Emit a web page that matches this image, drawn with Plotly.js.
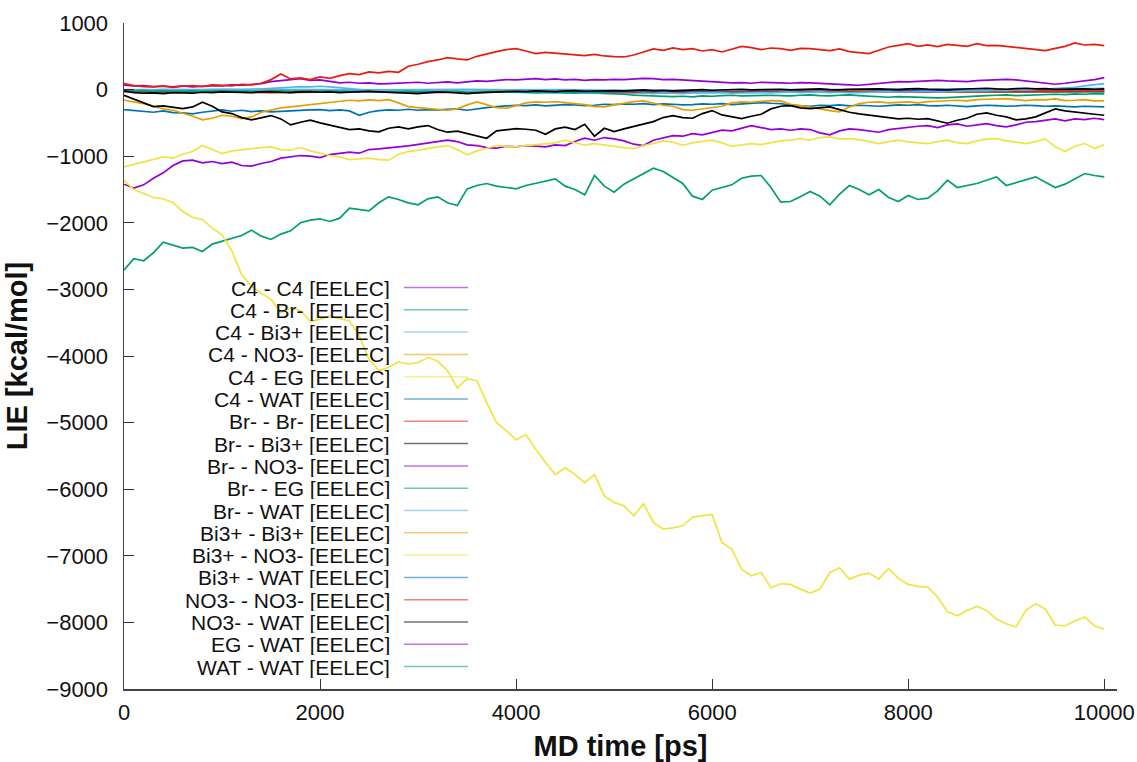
<!DOCTYPE html>
<html><head><meta charset="utf-8">
<script src="https://cdn.plot.ly/plotly-3.0.1.min.js"></script>
<style>html,body{margin:0;padding:0;background:#fff}#chart{width:1137px;height:762px}</style>
</head><body><div id="chart"></div>
<script>
// MD time [ps]
const time = [
0,100,200,300,400,500,600,700,800,900,
1000,1100,1200,1300,1400,1500,1600,1700,1800,1900,
2000,2100,2200,2300,2400,2500,2600,2700,2800,2900,
3000,3100,3200,3300,3400,3500,3600,3700,3800,3900,
4000,4100,4200,4300,4400,4500,4600,4700,4800,4900,
5000,5100,5200,5300,5400,5500,5600,5700,5800,5900,
6000,6100,6200,6300,6400,6500,6600,6700,6800,6900,
7000,7100,7200,7300,7400,7500,7600,7700,7800,7900,
8000,8100,8200,8300,8400,8500,8600,8700,8800,8900,
9000,9100,9200,9300,9400,9500,9600,9700,9800,9900,
10000];
const timeCoarse = [0,500,1000,1500,2000,2500,3000,3500,4000,4500,5000,5500,6000,6500,7000,7500,8000,8500,9000,9500,10000];

// series mostly hidden in the band around 0 (coarse sampling)
const c4_c4   = [-20,-30,-25,-35,-30,-25,-30,-35,-30,-25,-20,-25,-30,-20,-15,-20,-10,-15,-5,-10,-5];
const c4_br   = [-10,-20,-15,-25,-20,-15,-20,-25,-20,-30,-25,-20,-25,-30,-35,-25,-30,-35,-40,-30,-35];
const c4_bi   = [0,-5,5,0,-10,-5,0,5,-5,0,-10,-15,-10,-5,0,5,0,10,5,15,20];
const c4_no3  = [-30,-35,-40,-30,-35,-45,-40,-35,-30,-40,-35,-30,-40,-35,-30,-25,-35,-30,-25,-30,-25];
const c4_wat  = [-25,-30,-35,-30,-40,-35,-30,-35,-40,-30,-35,-40,-35,-30,-35,-30,-25,-30,-35,-30,-25];
const no3_no3 = [-30,-40,-35,-45,-40,-35,-45,-40,-35,-45,-50,-45,-40,-35,-40,-30,-35,-30,-25,-30,-25];

const br_bi = [
-20,-45,-55,-50,-60,-45,-50,-55,-40,-45,
-35,-40,-50,-45,-35,-30,-40,-45,-35,-30,
-40,-35,-45,-40,-30,-25,-35,-45,-50,-55,
-60,-45,-35,-40,-55,-60,-50,-40,-35,-30,
-25,-30,-20,-25,-30,-20,-15,-25,-20,-10,
-15,-20,-10,-5,-15,-10,-20,-10,-5,0,
-10,-5,0,5,-5,0,10,5,-5,0,
5,10,0,-5,5,10,15,10,5,0,
10,15,5,0,-5,5,10,15,20,10,
5,15,20,10,15,5,10,15,10,5,
10];
const br_eg = [
-10,-20,-15,-25,-20,-30,-25,-20,-30,-25,
-20,-30,-25,-35,-30,-25,-20,-30,-25,-35,
-30,-25,-35,-30,-25,-30,-40,-35,-30,-25,
-35,-30,-40,-35,-30,-40,-45,-35,-30,-40,
-35,-40,-45,-40,-35,-45,-50,-40,-45,-55,
-60,-70,-85,-90,-100,-95,-105,-100,-110,-95,
-100,-90,-85,-95,-90,-80,-85,-90,-95,-85,
-80,-90,-95,-85,-80,-90,-100,-110,-115,-105,
-110,-120,-115,-125,-120,-110,-100,-95,-90,-85,
-80,-90,-85,-75,-80,-70,-75,-65,-70,-60,
-65];
const br_wat = [
-5,-10,0,-5,5,0,-5,-10,-5,0,
5,0,-5,0,5,10,25,35,45,40,
50,40,30,20,10,-10,-5,-15,-10,-20,
-15,-25,-20,-30,-25,-35,-30,-40,-35,-40,
-45,-40,-50,-45,-55,-50,-45,-55,-50,-60,
-55,-60,-65,-55,-60,-50,-55,-60,-50,-45,
-50,-45,-55,-50,-40,-45,-50,-40,-35,-45,
-40,-35,-45,-40,-50,-45,-40,-35,-30,-40,
-35,-30,-25,-35,-30,-20,-25,-15,-20,-10,
-15,-5,-10,0,5,10,20,35,55,75,
90];
const bi_wat = [
-300,-310,-325,-340,-320,-345,-350,-365,-340,-320,
-305,-325,-310,-330,-320,-335,-325,-320,-310,-305,
-300,-315,-305,-320,-385,-340,-315,-305,-310,-295,
-310,-300,-305,-300,-290,-310,-285,-270,-255,-245,
-235,-240,-230,-245,-235,-225,-230,-240,-235,-220,
-225,-215,-220,-210,-225,-215,-220,-230,-225,-215,
-220,-210,-225,-215,-200,-195,-205,-210,-235,-240,
-250,-235,-240,-230,-245,-235,-240,-250,-240,-230,
-235,-225,-240,-245,-235,-240,-255,-245,-235,-240,
-250,-245,-235,-240,-250,-245,-255,-260,-250,-255,
-260];
const bi_bi = [
-160,-180,-210,-250,-290,-310,-350,-400,-455,-430,
-385,-400,-435,-410,-340,-310,-275,-260,-245,-225,
-210,-195,-175,-160,-170,-155,-165,-150,-200,-255,
-270,-280,-290,-310,-290,-230,-185,-230,-270,-280,
-240,-200,-185,-190,-180,-195,-210,-225,-255,-260,
-230,-200,-180,-170,-200,-235,-250,-300,-310,-290,
-265,-250,-200,-185,-190,-175,-165,-170,-220,-240,
-260,-290,-315,-335,-260,-210,-190,-185,-200,-190,
-185,-200,-180,-175,-165,-160,-170,-150,-145,-140,
-135,-150,-165,-150,-155,-140,-165,-160,-150,-170,
-170];
const no3_wat = [
-85,-140,-200,-255,-245,-270,-285,-260,-190,-250,
-335,-360,-420,-455,-420,-390,-440,-530,-490,-460,
-500,-530,-560,-600,-590,-620,-635,-580,-560,-590,
-560,-540,-600,-640,-625,-660,-700,-730,-620,-600,
-585,-595,-610,-670,-590,-565,-600,-520,-700,-580,
-630,-590,-555,-520,-480,-420,-390,-420,-430,-360,
-315,-380,-410,-435,-400,-370,-290,-250,-240,-275,
-285,-270,-260,-300,-340,-365,-385,-410,-425,-440,
-430,-445,-435,-470,-505,-460,-430,-370,-350,-385,
-410,-455,-440,-410,-350,-290,-320,-340,-355,-370,
-385];
const br_no3 = [
65,55,60,45,50,40,55,40,50,60,
55,70,65,80,90,120,140,150,165,140,
145,120,100,110,95,100,85,90,95,100,
110,95,105,115,100,120,130,125,140,150,
145,160,165,150,160,145,155,140,150,145,
155,150,160,170,165,150,155,145,140,135,
125,110,100,105,95,110,100,100,95,105,
100,90,85,75,70,65,80,95,110,120,
115,125,135,140,130,125,120,135,145,150,
155,145,130,110,90,80,95,110,130,150,
180];
const br_br = [
90,60,45,40,55,35,50,60,45,70,
65,55,80,70,95,150,235,160,175,150,
190,170,210,240,225,265,250,275,260,350,
380,420,445,480,460,445,500,540,570,600,
615,580,540,560,545,530,520,510,530,505,
495,490,520,560,610,590,625,600,615,580,
600,565,610,650,630,600,625,615,590,620,
615,600,585,610,570,555,540,590,640,665,
690,650,670,645,680,665,650,690,660,665,
650,640,620,600,585,620,650,700,670,680,
660];
const eg_wat = [
-1420,-1480,-1430,-1330,-1250,-1140,-1070,-1060,-1100,-1080,
-1110,-1090,-1140,-1150,-1110,-1080,-1030,-1010,-990,-1000,
-1020,-975,-960,-940,-955,-900,-890,-870,-860,-845,
-825,-800,-790,-760,-780,-830,-840,-870,-880,-850,
-860,-840,-850,-860,-830,-840,-780,-730,-760,-720,
-740,-770,-820,-840,-760,-720,-690,-700,-660,-680,
-640,-610,-620,-580,-540,-570,-600,-590,-610,-590,
-600,-650,-680,-620,-590,-600,-620,-640,-600,-580,
-560,-550,-540,-570,-530,-515,-550,-530,-510,-540,
-560,-530,-490,-480,-460,-440,-470,-440,-450,-430,
-450];
const c4_eg = [
-1160,-1120,-1080,-1040,-1010,-1030,-970,-930,-840,-900,
-960,-920,-900,-880,-870,-860,-900,-910,-870,-920,
-960,-990,-1010,-1050,-1040,-1030,-1050,-1060,-970,-930,
-910,-880,-860,-840,-900,-980,-920,-880,-840,-850,
-860,-840,-830,-810,-800,-760,-800,-835,-810,-830,
-860,-870,-885,-840,-810,-770,-790,-835,-800,-785,
-760,-800,-850,-830,-810,-825,-800,-770,-760,-735,
-760,-720,-710,-740,-735,-750,-780,-810,-780,-760,
-785,-800,-810,-780,-760,-795,-810,-770,-745,-735,
-770,-790,-810,-780,-740,-860,-930,-850,-810,-880,
-830];
const wat_wat = [
-2710,-2540,-2570,-2450,-2290,-2330,-2380,-2370,-2430,-2320,
-2280,-2230,-2190,-2110,-2200,-2250,-2170,-2120,-2000,-1960,
-1940,-1980,-1930,-1780,-1800,-1820,-1700,-1610,-1650,-1700,
-1730,-1640,-1610,-1700,-1740,-1490,-1440,-1410,-1450,-1470,
-1490,-1440,-1410,-1370,-1340,-1450,-1500,-1580,-1290,-1450,
-1540,-1420,-1340,-1260,-1180,-1230,-1320,-1410,-1600,-1650,
-1510,-1470,-1430,-1330,-1300,-1290,-1470,-1690,-1680,-1610,
-1530,-1600,-1730,-1570,-1440,-1500,-1580,-1500,-1620,-1680,
-1590,-1650,-1630,-1520,-1360,-1470,-1440,-1410,-1360,-1310,
-1440,-1400,-1350,-1310,-1390,-1470,-1420,-1340,-1260,-1290,
-1310];
const bi_no3 = [
-1360,-1500,-1560,-1620,-1640,-1700,-1830,-1920,-1950,-2080,
-2180,-2420,-2780,-2950,-3060,-3150,-3350,-3280,-3320,-3480,
-3450,-3400,-3440,-3470,-3700,-4050,-4220,-4170,-4090,-4120,
-4100,-4020,-4080,-4220,-4480,-4340,-4370,-4700,-5000,-5120,
-5260,-5180,-5400,-5600,-5780,-5680,-5780,-5900,-5780,-6100,
-6200,-6250,-6400,-6220,-6500,-6600,-6580,-6550,-6420,-6400,
-6380,-6800,-6900,-7200,-7300,-7250,-7480,-7420,-7430,-7500,
-7560,-7500,-7250,-7180,-7350,-7290,-7260,-7350,-7190,-7340,
-7430,-7460,-7470,-7620,-7840,-7900,-7820,-7760,-7820,-7950,
-8020,-8070,-7820,-7720,-7800,-8040,-8050,-7980,-7920,-8050,
-8100];

const legendNames = [
"C4 - C4 [EELEC]","C4 - Br- [EELEC]","C4 - Bi3+ [EELEC]","C4 - NO3- [EELEC]","C4 - EG [EELEC]","C4 - WAT [EELEC]",
"Br- - Br- [EELEC]","Br- - Bi3+ [EELEC]","Br- - NO3- [EELEC]","Br- - EG [EELEC]","Br- - WAT [EELEC]",
"Bi3+ - Bi3+ [EELEC]","Bi3+ - NO3- [EELEC]","Bi3+ - WAT [EELEC]","NO3- - NO3- [EELEC]","NO3- - WAT [EELEC]",
"EG - WAT [EELEC]","WAT - WAT [EELEC]"];
const P="#9400d3",G="#009e73",LB="#56b4e9",O="#e69f00",Y="#f0e442",B="#0072b2",R="#e51e10",K="#000000";
const seriesColors = [P,G,LB,O,Y,B,R,K,P,G,LB,O,Y,B,R,K,P,G];
const seriesY = [c4_c4,c4_br,c4_bi,c4_no3,c4_eg,c4_wat,br_br,br_bi,br_no3,br_eg,br_wat,bi_bi,bi_no3,bi_wat,no3_no3,no3_wat,eg_wat,wat_wat];
const seriesX = [timeCoarse,timeCoarse,timeCoarse,timeCoarse,time,timeCoarse,time,time,time,time,time,time,time,time,timeCoarse,time,time,time];
// drawing order (background first)
const drawOrder = [0,1,2,3,5,14,10,9,7,13,11,15,8,6,16,4,17,12];

const FONT = "Liberation Sans, Arial, sans-serif";
const traces = drawOrder.map(i => ({
  type:"scatter", mode:"lines", x:seriesX[i], y:seriesY[i], name:legendNames[i],
  line:{color:seriesColors[i], width:1.7}, showlegend:false, hoverinfo:"skip"
}));

const L=124, R_=1117, T=23, Bt=689;
const pw = R_-L, ph = Bt-T;
const annotations = [], shapes = [];
legendNames.forEach((nm,i) => {
  const ypx = 287.5 + 22.3*i;
  const yp = (Bt - ypx)/ph;
  annotations.push({xref:"paper", yref:"paper", x:(391-L)/pw, y:yp, xanchor:"right", yanchor:"middle",
    text:nm, showarrow:false, borderpad:0, height:22, valign:"middle",
    font:{family:FONT, size:21, color:"#111"}});
  shapes.push({type:"line", xref:"paper", yref:"paper", x0:(404-L)/pw, x1:(468-L)/pw, y0:yp, y1:yp,
    line:{color:seriesColors[i], width:1.5}, opacity:0.55, layer:"above"});
});

const layout = {
  width:1137, height:762,
  margin:{l:L, r:1137-R_, t:T, b:762-Bt},
  paper_bgcolor:"#fff", plot_bgcolor:"#fff",
  showlegend:false,
  font:{family:FONT, color:"#111"},
  xaxis:{range:[0,10130], tick0:0, dtick:2000, tickformat:"d", ticks:"inside", ticklen:10, tickcolor:"#333", tickwidth:1,
    showline:true, linecolor:"#444", linewidth:1.5, showgrid:false, zeroline:false,
    tickfont:{family:FONT, size:22, color:"#111"}, ticklabelstandoff:3,
    title:{text:"MD time [ps]", font:{family:FONT, size:29, weight:"bold", color:"#111"}, standoff:12}},
  yaxis:{range:[-9000,1000], tick0:0, dtick:1000, tickformat:"d", ticks:"inside", ticklen:10, tickcolor:"#333", tickwidth:1,
    showline:true, linecolor:"#444", linewidth:1.5, showgrid:false, zeroline:false,
    tickfont:{family:FONT, size:22, color:"#111"}, ticklabelstandoff:10,
    title:{text:"LIE [kcal/mol]", font:{family:FONT, size:29, weight:"bold", color:"#111"}, standoff:10}},
  annotations, shapes
};
Plotly.newPlot("chart", traces, layout, {displayModeBar:false, staticPlot:true});
</script></body></html>
